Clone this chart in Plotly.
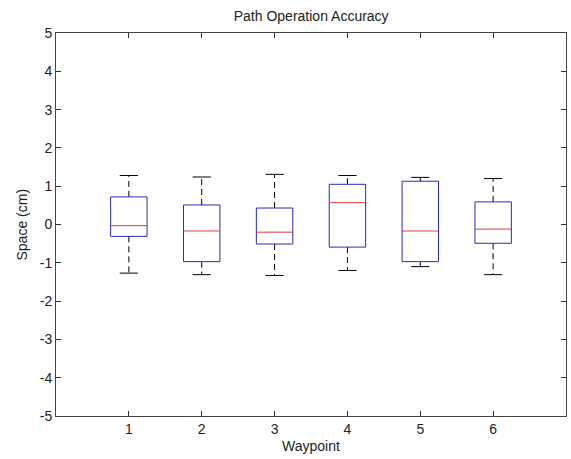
import plotly.graph_objects as go

# Data
waypoints = [1, 2, 3, 4, 5, 6]
upper_whisker = [1.28, 1.24, 1.31, 1.28, 1.23, 1.20]
q3 = [0.72, 0.51, 0.43, 1.05, 1.13, 0.59]
median = [-0.03, -0.17, -0.20, 0.57, -0.17, -0.12]
q1 = [-0.31, -0.97, -0.51, -0.59, -0.97, -0.49]
lower_whisker = [-1.27, -1.31, -1.33, -1.20, -1.10, -1.31]

y_ticks = [-5, -4, -3, -2, -1, 0, 1, 2, 3, 4, 5]
y_tick_text = ["-5", "-4", "-3", "-2", "-1", "0", "1", "2", "3", "4", "5"]

BOX_HALF = 0.25
CAP_HALF = 0.125
BLUE = "#2a2ab8"
RED = "#e23c3c"

fig = go.Figure()

bx, by, mx, my, wx, wy, cx, cy = [], [], [], [], [], [], [], []
for x, lw, a, m, b, uw in zip(waypoints, lower_whisker, q1, median, q3, upper_whisker):
    bx += [x - BOX_HALF, x + BOX_HALF, x + BOX_HALF, x - BOX_HALF, x - BOX_HALF, None]
    by += [a, a, b, b, a, None]
    mx += [x - BOX_HALF, x + BOX_HALF, None]
    my += [m, m, None]
    wx += [x, x, None, x, x, None]
    wy += [b, uw, None, a, lw, None]
    cx += [x - CAP_HALF, x + CAP_HALF, None, x - CAP_HALF, x + CAP_HALF, None]
    cy += [uw, uw, None, lw, lw, None]

fig.add_trace(go.Scatter(x=wx, y=wy, mode="lines",
                         line=dict(color="black", width=1, dash="6px,4px"),
                         hoverinfo="skip", showlegend=False))
fig.add_trace(go.Scatter(x=cx, y=cy, mode="lines",
                         line=dict(color="black", width=1),
                         hoverinfo="skip", showlegend=False))
fig.add_trace(go.Scatter(x=bx, y=by, mode="lines",
                         line=dict(color=BLUE, width=1),
                         hoverinfo="skip", showlegend=False))
fig.add_trace(go.Scatter(x=mx, y=my, mode="lines",
                         line=dict(color=RED, width=1),
                         hoverinfo="skip", showlegend=False))

FONT = "Liberation Sans, Arial, sans-serif"

fig.update_layout(
    width=571, height=459,
    margin=dict(l=56, r=5, t=33, b=43),
    paper_bgcolor="white", plot_bgcolor="white",
    font=dict(family=FONT, size=14, color="#222222"),
    title=dict(text="Path Operation Accuracy", x=0.545, xanchor="center",
               y=1 - 16 / 459, yanchor="middle", yref="container",
               font=dict(size=14, family=FONT, color="#222222")),
    showlegend=False,
)
fig.update_xaxes(
    range=[0, 7], tickvals=waypoints, ticktext=[str(w) for w in waypoints],
    ticks="inside", ticklen=5, tickcolor="#333333",
    showline=True, linecolor="#444444", linewidth=1, mirror="ticks",
    showgrid=False, zeroline=False, fixedrange=True,
    tickfont=dict(size=14, family=FONT, color="#222222"),
)
fig.update_yaxes(
    range=[-5, 5], tickvals=y_ticks, ticktext=y_tick_text,
    ticks="inside", ticklen=5, tickcolor="#333333",
    showline=True, linecolor="#444444", linewidth=1, mirror="ticks",
    showgrid=False, zeroline=False, fixedrange=True,
    tickfont=dict(size=14, family=FONT, color="#222222"),
)
fig.add_annotation(text="Waypoint", x=0.5, xref="paper", y=446, yref="paper",
                   showarrow=False, font=dict(size=14, family=FONT, color="#222222"))
fig.update_annotations(yref="paper", y=-(446 - 416) / (416 - 33), yanchor="middle")
fig.add_annotation(text="Space (cm)", textangle=-90, x=21, xref="paper",
                   y=0.5, yref="paper", showarrow=False,
                   font=dict(size=14, family=FONT, color="#222222"))
# position y-label in pixels relative to plot area
plot_w = 571 - 56 - 5
fig.layout.annotations[1].update(x=-(56 - 21) / plot_w, xanchor="center", yanchor="middle")

fig.write_html("out.html")
